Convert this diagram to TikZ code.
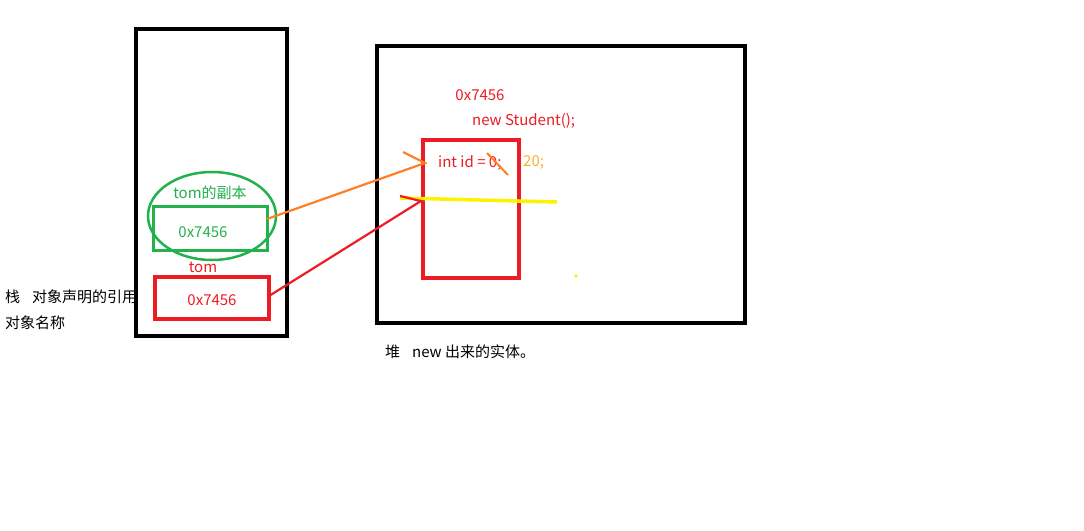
\documentclass[tikz,border=0pt]{standalone}
\usepackage{fontspec}
\setmainfont{Noto Sans CJK SC}
\definecolor{myred}{RGB}{237,28,36}
\definecolor{mygreen}{RGB}{34,177,76}
\definecolor{myorange}{RGB}{255,127,39}
\definecolor{myyellow}{RGB}{255,242,0}
\definecolor{mygold}{RGB}{255,174,40}
\begin{document}
\begin{tikzpicture}[x=1pt,y=-1pt,
  txt/.style={inner sep=0pt,font=\fontsize{15}{17}\selectfont},
  frame/.style={draw=black,line width=4pt},
  redbox/.style={draw=myred,line width=4pt},
  greenbox/.style={draw=mygreen,line width=3pt},
  link/.style={line width=2.2pt}]
\useasboundingbox[fill=white] (0,0) rectangle (1084,530);
% stack
\node[frame,minimum width=151pt,minimum height=307pt,inner sep=0pt] (stack) at (211.5,182.5) {};
% heap
\node[frame,minimum width=368pt,minimum height=277pt,inner sep=0pt] (heap) at (561,184.5) {};
% green ellipse and box
\draw[mygreen,line width=2.5pt] (212,216) ellipse [x radius=64pt,y radius=44pt];
\node[greenbox,minimum width=114pt,minimum height=44pt,inner sep=0pt] (grect) at (210,228) {};
\node[txt,text=mygreen] (copylbl) at (210,193) {tom的副本};
\node[txt,text=mygreen] (gval) at (203,232) {0x7456};
\node[txt,text=myred] (tomlbl) at (203,267) {tom};
\node[redbox,minimum width=114pt,minimum height=42pt,inner sep=0pt] (rrect) at (212,298) {};
\node[txt,text=myred] (rval) at (212,300) {0x7456};
% left labels
\node[txt,anchor=west] (stacklbl) at (5,297) {栈\hspace{0.8em}对象声明的引用};
\node[txt,anchor=west] (namelbl) at (5,323) {对象名称};
% heap content
\node[txt,text=myred] (addr) at (480,95) {0x7456};
\node[txt,text=myred,anchor=west] (newst) at (472,121) {new Student();};
\node[redbox,minimum width=96pt,minimum height=138pt,inner sep=0pt] (obj) at (471,209) {};
\node[txt,text=myred,anchor=west] (field) at (438,163) {int id = 0;};
\node[txt,text=mygold,anchor=west] (newval) at (523,162) {20;};
\node[txt,anchor=west] (heaplbl) at (385,352) {堆\hspace{0.8em}new 出来的实体。};
% strike and yellow line
\coordinate (s1) at (487,153);
\coordinate (s2) at (508,175);
\draw[myorange,line width=2pt] (s1) -- (s2);
\coordinate (y1) at (400,198);
\coordinate (y2) at (557,202);
\draw[myyellow,line width=3.5pt] (y1) -- (y2);
\fill[myyellow] (576,276) circle (1.8pt);
% orange arrow
\coordinate (ostart) at (267,219);
\coordinate (otip) at (425,163);
\coordinate (obarb) at (403,152);
\draw[myorange,link] (ostart) -- (otip) -- (obarb);
% red arrow
\coordinate (rstart) at (269,296);
\coordinate (rtip) at (421,201);
\coordinate (rbarb) at (400,196);
\draw[myred,link] (rstart) -- (rtip) -- (rbarb);
\end{tikzpicture}
\end{document}
